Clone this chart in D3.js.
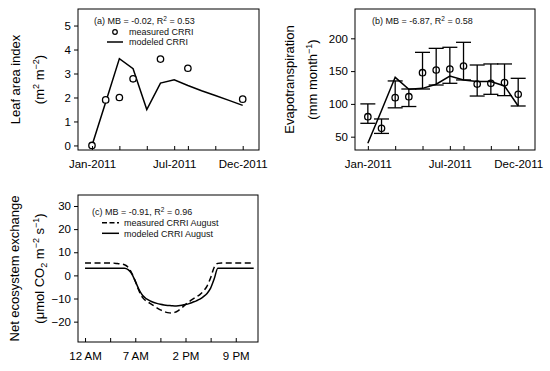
<!DOCTYPE html>
<html>
<head>
<meta charset="utf-8">
<script src="https://cdn.jsdelivr.net/npm/d3@7"></script>
<style>
  body { margin: 0; background: #fff; }
  svg { display: block; font-family: "Liberation Sans", Arial, sans-serif; }
</style>
</head>
<body>
<svg id="chart" width="550" height="371"></svg>
<script>
// data - panel (a) leaf area index
const laiMonthsMeasured = [0, 1, 2, 3, 5, 7, 11];
const laiMeasured = [0, 1.9, 2.0, 2.78, 3.6, 3.22, 1.93];
const laiMonthsModeled = [0, 1, 2, 3, 4, 5, 6, 7, 8, 9, 10, 11];
const laiModeled = [0, 1.8, 3.62, 3.2, 1.5, 2.6, 2.74, 2.5, 2.28, 2.08, 1.88, 1.67];

// data - panel (b) evapotranspiration
const etMonths = [0, 1, 2, 3, 4, 5, 6, 7, 8, 9, 10, 11];
const etMeasured = [80.5, 62.7, 109.5, 111, 147.6, 151.7, 153.2, 157.8, 130.3, 131.4, 132.4, 114.6];
const etUpper = [100, 77, 135, 122.7, 178.6, 184.7, 186.3, 193.9, 159.3, 160.9, 160.9, 139];
const etLower = [70.4, 55, 94, 96, 122.7, 128.8, 131.4, 136.5, 112, 114.6, 112.6, 96.8];
const etModeled = [40, 90, 140.5, 122.2, 123.7, 130, 142.5, 136.5, 134, 134, 127.3, 96.8];

// data - panel (c) net ecosystem exchange, August diurnal
const neeHours = [0, 0.5, 1, 1.5, 2, 2.5, 3, 3.5, 4, 4.5, 5, 5.5, 6, 6.5, 7, 7.5, 8, 8.5, 9, 9.5,
  10, 10.5, 11, 11.5, 12, 12.5, 13, 13.5, 14, 14.5, 15, 15.5, 16, 16.5, 17, 17.5, 18, 18.5, 19, 19.5,
  20, 20.5, 21, 21.5, 22, 22.5, 23, 23.5];
const neeMeasured = [5.4, 5.4, 5.4, 5.4, 5.4, 5.4, 5.4, 5.4, 5.3, 5.1, 4.9, 4.6, 3.5, 1.0, -2.5, -6.5,
  -9.5, -11.0, -12.0, -13.0, -14.0, -14.9, -15.6, -16.1, -16.3, -16.0, -15.2, -14.0, -12.6, -11.4,
  -10.3, -9.3, -8.3, -6.8, -4.6, -1.0, 3.5, 5.2, 5.4, 5.4, 5.4, 5.4, 5.4, 5.4, 5.4, 5.4, 5.4, 5.4];
const neeModeled = [3.1, 3.1, 3.1, 3.1, 3.1, 3.1, 3.1, 3.1, 3.1, 3.1, 3.1, 3.1, 2.5, 0.8, -2.5, -6.0,
  -8.6, -10.0, -10.9, -11.6, -12.1, -12.5, -12.8, -13.0, -13.1, -13.2, -13.1, -12.9, -12.6, -12.2,
  -11.6, -11.0, -10.3, -9.2, -7.8, -5.5, -1.5, 3.1, 3.1, 3.1, 3.1, 3.1, 3.1, 3.1, 3.1, 3.1, 3.1, 3.1];

// tick labels
const monthTicks = [0, 2, 4, 6, 7, 9, 11];
const monthLabels = { 0: "Jan-2011", 6: "Jul-2011", 11: "Dec-2011" };
const hourTicks = [0, 3.5, 7, 10.5, 14, 17.5, 21];
const hourLabels = { 0: "12 AM", 7: "7 AM", 14: "2 PM", 21: "9 PM" };

const svg = d3.select("#chart");
const TICK_FONT = "11.5px";
const TITLE_FONT = "13px";
const LEGEND_FONT = "9px";

//helpers
function frame(g, x0, x1, y0, y1){
    g.append("rect")
        .attr("x", x0).attr("y", y0)
        .attr("width", x1 - x0).attr("height", y1 - y0)
        .attr("fill", "none")
        .attr("stroke", "#000")
        .attr("stroke-width", 1);
}

function yAxis(g, y, x0, ticks){
    g.append("g")
        .attr("transform", "translate(" + x0 + ",0)")
        .call(d3.axisLeft(y).tickValues(ticks).tickSize(4).tickPadding(3).tickFormat(d3.format("d")))
        .call(a => a.select(".domain").remove())
        .call(a => a.selectAll("text").style("font-size", TICK_FONT).attr("fill", "#000"));
}

function xAxis(g, x, y0, ticks, labels){
    g.append("g")
        .attr("transform", "translate(0," + y0 + ")")
        .call(d3.axisBottom(x).tickValues(ticks).tickSize(-4).tickPadding(10)
            .tickFormat(d => labels[d] || ""))
        .call(a => a.select(".domain").remove())
        .call(a => a.selectAll("text").style("font-size", TICK_FONT).attr("fill", "#000"));
}

// rotated title built from parts [text, shift]
function title(g, bx, cy, parts){
    const t = g.append("text")
        .attr("transform", "translate(" + bx + "," + cy + ") rotate(-90)")
        .attr("text-anchor", "middle")
        .style("font-size", TITLE_FONT)
        .attr("fill", "#000");
    let cur = 0;
    parts.forEach(([txt, shift]) => {
        t.append("tspan")
            .attr("dy", shift - cur)
            .style("font-size", shift === 0 ? TITLE_FONT : "9px")
            .text(txt);
        cur = shift;
    });
}

function statText(g, x, yb, label, mb, r2){
    const t = g.append("text")
        .attr("x", x).attr("y", yb)
        .style("font-size", LEGEND_FONT)
        .attr("fill", "#111");
    t.append("tspan").text(label + " MB = " + mb + ", R");
    t.append("tspan").attr("dy", -3.5).style("font-size", "6.5px").text("2");
    t.append("tspan").attr("dy", 3.5).text(" = " + r2);
}

//panel (a)
{
    const g = svg.append("g");
    const x0 = 78, x1 = 259, y0 = 9, y1 = 150;
    const x = d3.scaleLinear().domain([-1.02, 12.19]).range([x0, x1]);
    const y = d3.scaleLinear().domain([-0.19, 5.69]).range([y1, y0]);

    const line = d3.line().x(d => x(d[0])).y(d => y(d[1]));
    g.append("path")
        .datum(laiMonthsModeled.map((m, i) => [m, laiModeled[i]]))
        .attr("d", line)
        .attr("fill", "none").attr("stroke", "#000").attr("stroke-width", 1.5);

    g.selectAll("circle.meas")
        .data(laiMonthsMeasured.map((m, i) => [m, laiMeasured[i]]))
        .enter().append("circle")
        .attr("class", "meas")
        .attr("cx", d => x(d[0])).attr("cy", d => y(d[1]))
        .attr("r", 3.2)
        .attr("fill", "#fff").attr("stroke", "#000").attr("stroke-width", 1.3);

    frame(g, x0, x1, y0, y1);
    yAxis(g, y, x0, [0, 1, 2, 3, 4, 5]);
    xAxis(g, x, y1, monthTicks, monthLabels);

    title(g, 20, 79.5, [["Leaf area index", 0]]);
    title(g, 44, 79.5, [["(m", 0], ["2", -5], [" m", 0], ["\u22122", -5], [")", 0]]);

    //legend
    statText(g, 94, 24, "(a)", "-0.02", "0.53");
    g.append("circle").attr("cx", 115).attr("cy", 32)
        .attr("r", 2.3).attr("fill", "#fff").attr("stroke", "#000").attr("stroke-width", 1.2);
    g.append("line").attr("x1", 107).attr("x2", 123).attr("y1", 42).attr("y2", 42)
        .attr("stroke", "#000").attr("stroke-width", 1.5);
    g.append("text").attr("x", 129).attr("y", 35).style("font-size", LEGEND_FONT).attr("fill", "#111").text("measured CRRI");
    g.append("text").attr("x", 129).attr("y", 45).style("font-size", LEGEND_FONT).attr("fill", "#111").text("modeled CRRI");
}

//panel (b)
{
    const g = svg.append("g");
    const x0 = 355, x1 = 535, y0 = 9, y1 = 150;
    const x = d3.scaleLinear().domain([-0.94, 12.23]).range([x0, x1]);
    const y = d3.scaleLinear().domain([29.7, 244.7]).range([y1, y0]);
    const capW = 7.5;

    const bars = g.selectAll("g.err")
        .data(etMonths.map((m, i) => ({ m, lo: etLower[i], hi: etUpper[i] })))
        .enter().append("g").attr("class", "err")
        .attr("stroke", "#000").attr("stroke-width", 1.3);
    bars.append("line").attr("x1", d => x(d.m)).attr("x2", d => x(d.m))
        .attr("y1", d => y(d.lo)).attr("y2", d => y(d.hi));
    bars.append("line").attr("x1", d => x(d.m) - capW).attr("x2", d => x(d.m) + capW)
        .attr("y1", d => y(d.hi)).attr("y2", d => y(d.hi));
    bars.append("line").attr("x1", d => x(d.m) - capW).attr("x2", d => x(d.m) + capW)
        .attr("y1", d => y(d.lo)).attr("y2", d => y(d.lo));

    const line = d3.line().x(d => x(d[0])).y(d => y(d[1]));
    g.append("path")
        .datum(etMonths.map((m, i) => [m, etModeled[i]]))
        .attr("d", line)
        .attr("fill", "none").attr("stroke", "#000").attr("stroke-width", 1.5);

    g.selectAll("circle.meas")
        .data(etMonths.map((m, i) => [m, etMeasured[i]]))
        .enter().append("circle")
        .attr("class", "meas")
        .attr("cx", d => x(d[0])).attr("cy", d => y(d[1]))
        .attr("r", 3.2)
        .attr("fill", "none").attr("stroke", "#000").attr("stroke-width", 1.3);

    frame(g, x0, x1, y0, y1);
    yAxis(g, y, x0, [50, 100, 150, 200]);
    xAxis(g, x, y1, monthTicks, monthLabels);

    title(g, 294, 79.5, [["Evapotranspiration", 0]]);
    title(g, 317, 79.5, [["(mm month", 0], ["\u22121", -5], [")", 0]]);

    statText(g, 372, 24, "(b)", "-6.87", "0.58");
}

//panel (c)
{
    const g = svg.append("g");
    const x0 = 78, x1 = 258, y0 = 195, y1 = 342;
    const x = d3.scaleLinear().domain([-0.98, 24.1]).range([x0, x1]);
    const y = d3.scaleLinear().domain([-28.8, 34.75]).range([y1, y0]);

    const line = d3.line().x(d => x(d[0])).y(d => y(d[1])).curve(d3.curveMonotoneX);
    g.append("path")
        .datum(neeHours.map((h, i) => [h, neeMeasured[i]]))
        .attr("d", line)
        .attr("fill", "none").attr("stroke", "#000").attr("stroke-width", 1.5)
        .attr("stroke-dasharray", "6,3.5");
    g.append("path")
        .datum(neeHours.map((h, i) => [h, neeModeled[i]]))
        .attr("d", line)
        .attr("fill", "none").attr("stroke", "#000").attr("stroke-width", 1.5);

    frame(g, x0, x1, y0, y1);
    yAxis(g, y, x0, [-20, -10, 0, 10, 20, 30]);
    xAxis(g, x, y1, hourTicks, hourLabels);

    title(g, 19, 268.5, [["Net ecosystem exchange", 0]]);
    title(g, 44, 268.5, [["(\u03bcmol CO", 0], ["2", 3], [" m", 0], ["\u22122", -5], [" s", 0], ["\u22121", -5], [")", 0]]);

    //legend
    statText(g, 92, 215, "(c)", "-0.91", "0.96");
    g.append("line").attr("x1", 102).attr("x2", 119).attr("y1", 222.7).attr("y2", 222.7)
        .attr("stroke", "#000").attr("stroke-width", 1.5).attr("stroke-dasharray", "5,2.5");
    g.append("line").attr("x1", 102).attr("x2", 119).attr("y1", 233.3).attr("y2", 233.3)
        .attr("stroke", "#000").attr("stroke-width", 1.5);
    g.append("text").attr("x", 124).attr("y", 226).style("font-size", LEGEND_FONT).attr("fill", "#111").text("measured CRRI August");
    g.append("text").attr("x", 124).attr("y", 236.5).style("font-size", LEGEND_FONT).attr("fill", "#111").text("modeled CRRI August");
}
</script>
</body>
</html>
